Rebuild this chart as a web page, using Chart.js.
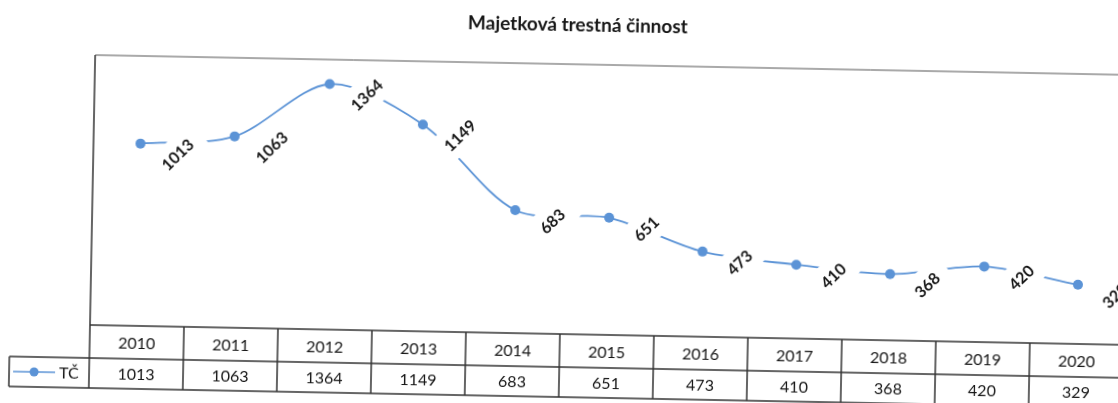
<!DOCTYPE html>
<html>
<head>
<meta charset="utf-8">
<title>Majetková trestná činnost</title>
<script src="https://cdn.jsdelivr.net/npm/chart.js@4/dist/chart.umd.min.js"></script>
<style>
  html, body { margin: 0; padding: 0; background: #fff; overflow: hidden; }
  #wrap {
    width: 1140px;
    height: 403px;
    transform: rotate(1.1deg);
    transform-origin: 90px 325px;
  }
</style>
</head>
<body>
<div id="wrap"><canvas id="chart" width="1140" height="403"></canvas></div>
<script>
// data
const chartTitle = "Majetková trestná činnost";
const seriesName = "TČ";
const years = ["2010", "2011", "2012", "2013", "2014", "2015", "2016", "2017", "2018", "2019", "2020"];
const tcValues = [1013, 1063, 1364, 1149, 683, 651, 473, 410, 368, 420, 329];

const lineColor = "#5b93d6";
const inkColor = "#161616";
const gridColor = "#333";

// value labels (rotated, white box over the line), plot border, data table, title
const excelExtras = {
  id: "excelExtras",
  afterDatasetsDraw(chart) {
    const ctx = chart.ctx;
    const meta = chart.getDatasetMeta(0);
    ctx.save();
    ctx.font = "bold 16px Lato, 'Open Sans', sans-serif";
    ctx.textAlign = "center";
    ctx.textBaseline = "middle";
    meta.data.forEach((pt, i) => {
      const txt = String(tcValues[i]);
      const tw = ctx.measureText(txt).width;
      ctx.save();
      ctx.translate(pt.x + 37, pt.y + 10);
      ctx.rotate(-Math.PI / 4);
      ctx.fillStyle = "#fff";
      ctx.fillRect(-tw / 2 - 12, -16, tw + 24, 32);
      ctx.fillStyle = inkColor;
      ctx.fillText(txt, 0, 1);
      ctx.restore();
    });
    ctx.restore();
  },
  afterDraw(chart) {
    const ctx = chart.ctx;
    const area = chart.chartArea;
    const n = years.length;
    const colW = (area.right - area.left) / n;
    const headTop = area.bottom;
    const headBottom = 358;
    const rowBottom = 388;
    const legendLeft = 10;

    ctx.save();
    // plot area border (left + top)
    ctx.strokeStyle = "#555";
    ctx.lineWidth = 1;
    ctx.beginPath();
    ctx.moveTo(area.left, area.top);
    ctx.lineTo(area.right, area.top);
    ctx.stroke();

    // data table grid
    ctx.strokeStyle = gridColor;
    ctx.lineWidth = 1.5;
    ctx.beginPath();
    ctx.moveTo(area.left, area.top);
    ctx.lineTo(area.left, rowBottom);
    ctx.moveTo(area.left, headTop);
    ctx.lineTo(area.right, headTop);
    ctx.moveTo(legendLeft, headBottom);
    ctx.lineTo(area.right, headBottom);
    ctx.moveTo(legendLeft, rowBottom);
    ctx.lineTo(area.right, rowBottom);
    ctx.moveTo(legendLeft, headBottom);
    ctx.lineTo(legendLeft, rowBottom);
    for (let i = 1; i <= n; i++) {
      const x = area.left + i * colW;
      ctx.moveTo(x, headTop);
      ctx.lineTo(x, rowBottom);
    }
    ctx.stroke();

    // table text
    ctx.fillStyle = inkColor;
    ctx.font = "16px Lato, 'Open Sans', sans-serif";
    ctx.textAlign = "center";
    ctx.textBaseline = "middle";
    const xs = chart.scales.x;
    years.forEach((y, i) => {
      const cx = xs.getPixelForValue(i);
      ctx.fillText(y, cx, (headTop + headBottom) / 2 + 1);
      ctx.fillText(String(tcValues[i]), cx, (headBottom + rowBottom) / 2 + 1);
    });

    // legend key in the table
    const ly = (headBottom + rowBottom) / 2;
    ctx.strokeStyle = lineColor;
    ctx.lineWidth = 1.5;
    ctx.beginPath();
    ctx.moveTo(14, ly);
    ctx.lineTo(56, ly);
    ctx.stroke();
    ctx.fillStyle = lineColor;
    ctx.beginPath();
    ctx.arc(35, ly, 4.5, 0, Math.PI * 2);
    ctx.fill();
    ctx.fillStyle = inkColor;
    ctx.textAlign = "left";
    ctx.fillText(seriesName, 60, ly + 1);

    // title
    ctx.font = "bold 19px Lato, 'Open Sans', sans-serif";
    ctx.textAlign = "center";
    ctx.fillText(chartTitle, 572, 16);
    ctx.restore();
  }
};

new Chart(document.getElementById("chart"), {
  type: "line",
  data: {
    labels: years,
    datasets: [
      {
        label: seriesName,
        data: tcValues,
        borderColor: lineColor,
        backgroundColor: lineColor,
        borderWidth: 1.8,
        tension: 0.3,
        pointRadius: 5,
        pointHoverRadius: 5,
        pointBackgroundColor: lineColor,
        pointBorderWidth: 0,
      },
    ],
  },
  options: {
    responsive: false,
    animation: false,
    layout: { padding: { left: 90, right: 16, top: 55, bottom: 78 } },
    plugins: {
      legend: { display: false },
      title: { display: false },
      tooltip: { enabled: false },
    },
    scales: {
      x: { display: false, offset: true },
      y: { display: false, min: 0, max: 1500 },
    },
  },
  plugins: [excelExtras],
});
</script>
</body>
</html>
